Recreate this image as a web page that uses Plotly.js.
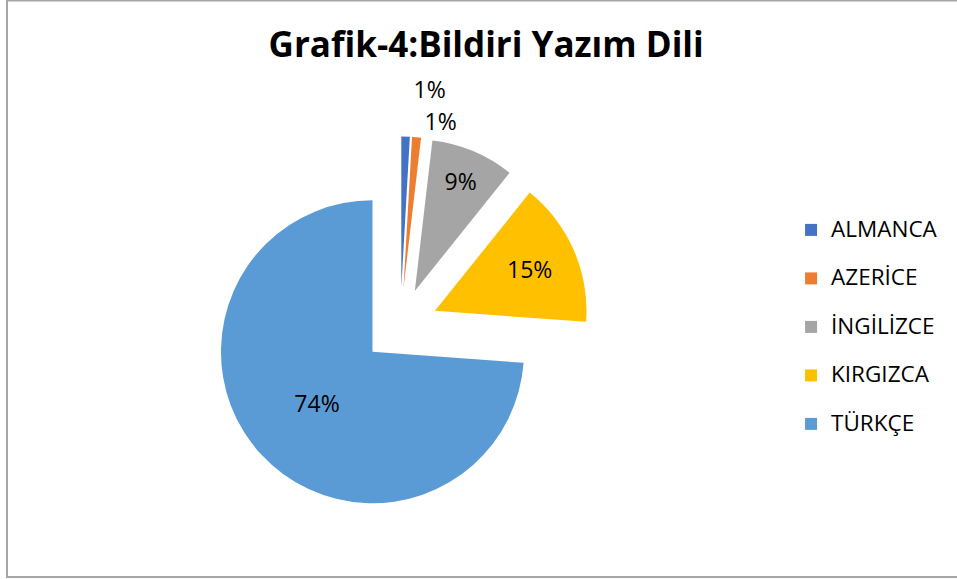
<!DOCTYPE html>
<html>
<head>
<meta charset="utf-8">
<script src="https://cdn.plot.ly/plotly-3.0.1.min.js"></script>
<style>
html,body{margin:0;padding:0;background:#fff;}
#chart path.textline{display:none;}
</style>
</head>
<body>
<div id="chart" style="width:957px;height:579px"></div>
<script>
const categories = ['ALMANCA', 'AZERİCE', 'İNGİLİZCE', 'KIRGIZCA', 'TÜRKÇE'];
const shares = [0.9, 0.95, 8.9, 15.4, 73.8];
const colors = ['#4472C4', '#ED7D31', '#A5A5A5', '#FFC000', '#5B9BD5'];
const textPositions = ['outside', 'outside', 'inside', 'inside', 'inside'];

const FONT = 'Open Sans, Lato, sans-serif';
const legendLabels = categories.map(c => '<span style="font-size:22.5px">' + c + '</span><br> ');

const trace = {
  type: 'pie',
  labels: legendLabels,
  values: shares,
  sort: false,
  direction: 'clockwise',
  rotation: 0,
  pull: 0.25,
  marker: {colors: colors, line: {width: 0}},
  textposition: textPositions,
  texttemplate: '%{percent:.0%}',
  insidetextorientation: 'horizontal',
  textfont: {family: FONT, size: 23, color: '#000'},
  outsidetextfont: {family: FONT, size: 23, color: '#000'},
  hoverinfo: 'label+percent',
  domain: {x: [0.2203, 0.6161], y: [0.1100, 0.7642]}
};

const layout = {
  width: 957,
  height: 579,
  margin: {l: 0, r: 0, t: 0, b: 0},
  paper_bgcolor: '#fff',
  title: {
    text: '<b>Grafik-4:Bildiri Yazım Dili</b>',
    font: {family: FONT, size: 35, color: '#000'},
    x: 0.508, xanchor: 'center', xref: 'paper',
    y: 0.922, yanchor: 'middle', yref: 'container'
  },
  showlegend: true,
  legend: {
    x: 0.8266, xanchor: 'left',
    y: 0.6338, yanchor: 'top',
    font: {family: FONT, size: 17.5, color: '#000'},
    valign: 'top',
    bgcolor: 'rgba(0,0,0,0)'
  },
  shapes: [{
    type: 'rect', xref: 'paper', yref: 'paper',
    x0: 7 / 957, x1: 1.02, y0: 1 - 577 / 579, y1: 1 - 0.5 / 579,
    line: {color: '#a6a6a6', width: 2}
  }]
};

Plotly.newPlot('chart', [trace], layout, {displayModeBar: false, staticPlot: true});
</script>
</body>
</html>
